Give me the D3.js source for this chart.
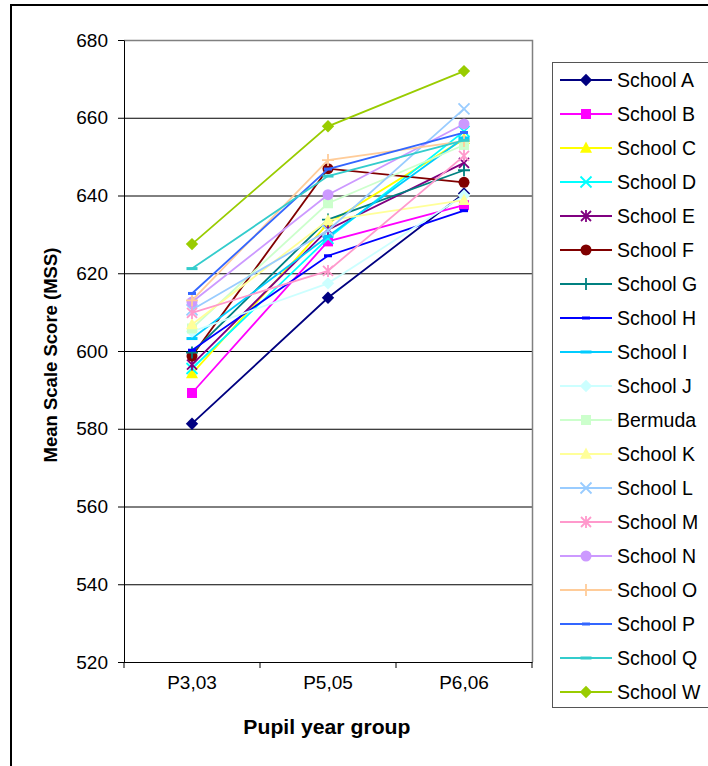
<!DOCTYPE html>
<html>
<head>
<meta charset="utf-8">
<script src="https://cdn.jsdelivr.net/npm/d3@7"></script>
<style>
  html, body { margin: 0; padding: 0; background: #fff; }
  svg text { font-family: "Liberation Sans", Arial, sans-serif; fill: #000; }
</style>
</head>
<body>
<svg id="chart"></svg>
<script>
const W = 708, H = 766;

// data
const groups = ["P3,03", "P5,05", "P6,06"];
const schools = ["School A", "School B", "School C", "School D", "School E", "School F",
    "School G", "School H", "School I", "School J", "Bermuda", "School K", "School L",
    "School M", "School N", "School O", "School P", "School Q", "School W"];
const scores = [
    [581.3, 613.7, 640.5],
    [589.2, 628.2, 637.5],
    [594.2, 632.8, 654.5],
    [595.5, 629.0, 656.5],
    [596.5, 631.2, 648.4],
    [598.7, 646.9, 643.4],
    [599.6, 633.8, 646.5],
    [600.2, 624.5, 636.1],
    [603.2, 629.5, 654.8],
    [605.0, 617.4, 640.0],
    [605.8, 638.0, 653.0],
    [606.8, 633.6, 638.8],
    [610.6, 631.0, 662.3],
    [609.8, 620.6, 650.2],
    [612.6, 640.2, 658.4],
    [613.0, 649.1, 654.0],
    [614.8, 646.8, 656.2],
    [621.2, 645.0, 654.2],
    [627.5, 657.8, 672.0]
];
const yTicks = [520, 540, 560, 580, 600, 620, 640, 660, 680];

// excel 2003 default series look
const colors = ["#000080", "#FF00FF", "#FFFF00", "#00FFFF", "#800080", "#800000",
    "#008080", "#0000FF", "#00CCFF", "#CCFFFF", "#CCFFCC", "#FFFF99", "#99CCFF",
    "#FF99CC", "#CC99FF", "#FFCC99", "#3366FF", "#33CCCC", "#99CC00"];
const markers = ["diamond", "square", "triangle", "x", "star", "circle", "plus", "dash",
    "longdash", "diamond", "square", "triangle", "x", "star", "circle", "plus", "dash",
    "longdash", "diamond"];

const plot = { left: 124, right: 532, top: 40, bottom: 662 };

const svg = d3.select("#chart").attr("width", W).attr("height", H);

// outer frame
svg.append("rect")
    .attr("x", 11).attr("y", 5)
    .attr("width", 740).attr("height", 800)
    .attr("fill", "none").attr("stroke", "#000").attr("stroke-width", 2);

const x = d3.scaleBand().domain(groups).range([plot.left, plot.right]);
const y = d3.scaleLinear().domain([520, 680]).range([plot.bottom, plot.top]);
const cx = d => x(d) + x.bandwidth() / 2;

// gridlines
svg.append("g")
    .attr("transform", `translate(${plot.left},0)`)
    .call(d3.axisLeft(y).tickValues(yTicks).tickSize(-(plot.right - plot.left)).tickFormat(""))
    .call(g => g.select(".domain").remove())
    .call(g => g.selectAll("line").attr("stroke", "#000").attr("stroke-width", 1));

// plot frame (top/right grey)
svg.append("path")
    .attr("d", `M${plot.left},${plot.top + 0.5}H${plot.right + 0.5}V${plot.bottom}`)
    .attr("fill", "none").attr("stroke", "#808080").attr("stroke-width", 1.5);

// y axis
svg.append("g")
    .attr("transform", `translate(${plot.left},0)`)
    .call(d3.axisLeft(y).tickValues(yTicks).tickSize(6).tickPadding(10).tickSizeOuter(0))
    .call(g => g.selectAll("line, path").attr("stroke", "#000"))
    .call(g => g.selectAll("text").attr("font-size", 19).attr("font-family", "Liberation Sans, Arial"));

// x axis
svg.append("g")
    .attr("transform", `translate(0,${plot.bottom})`)
    .call(d3.axisBottom(x).tickSize(0).tickPadding(14).tickSizeOuter(0))
    .call(g => g.select(".domain").attr("stroke", "#000"))
    .call(g => g.selectAll("text").attr("font-size", 19).attr("font-family", "Liberation Sans, Arial"));

// category separator ticks
const edges = groups.map(d => x(d)).concat([x.range()[1]]);
svg.append("g").selectAll("line").data(edges).join("line")
    .attr("x1", d => d).attr("x2", d => d)
    .attr("y1", plot.bottom).attr("y2", plot.bottom + 6)
    .attr("stroke", "#000");

// axis titles
svg.append("text")
    .attr("x", (plot.left + plot.right) / 2 - 1).attr("y", 734)
    .attr("text-anchor", "middle")
    .attr("font-size", 20).attr("font-weight", "bold")
    .attr("transform", `translate(${(plot.left + plot.right) / 2},0) scale(1.06,1) translate(${-(plot.left + plot.right) / 2},0)`)
    .text("Pupil year group");

svg.append("text")
    .attr("transform", "translate(57,355) rotate(-90)")
    .attr("text-anchor", "middle")
    .attr("font-size", 18.5).attr("font-weight", "bold")
    .text("Mean Scale Score (MSS)");

function drawMarker(g, type, color) {
    let el;
    switch (type) {
        case "diamond":
            el = g.append("path").attr("d", "M0,-6.2L6.2,0L0,6.2L-6.2,0Z").attr("fill", color); break;
        case "square":
            el = g.append("rect").attr("x", -5).attr("y", -5).attr("width", 10).attr("height", 10).attr("fill", color); break;
        case "triangle":
            el = g.append("path").attr("d", "M0,-6.5L6,4.8L-6,4.8Z").attr("fill", color); break;
        case "circle":
            el = g.append("circle").attr("r", 5.5).attr("fill", color); break;
        case "dash":
            el = g.append("rect").attr("x", -4).attr("y", -1.5).attr("width", 8).attr("height", 3).attr("fill", color); break;
        case "longdash":
            el = g.append("rect").attr("x", -5.5).attr("y", -1.5).attr("width", 11).attr("height", 3).attr("fill", color); break;
        case "x":
            el = g.append("path").attr("d", "M-5.5,-5.5L5.5,5.5M-5.5,5.5L5.5,-5.5"); break;
        case "star":
            el = g.append("path").attr("d", "M-5,-5L5,5M-5,5L5,-5M0,-6V6"); break;
        case "plus":
            el = g.append("path").attr("d", "M-6,0H6M0,-6V6"); break;
    }
    if (["x", "star", "plus"].includes(type)) {
        el.attr("stroke", color).attr("stroke-width", 1.8).attr("fill", "none");
    }
}

// series
const line = d3.line().x((d, i) => cx(groups[i])).y(d => y(d));

schools.forEach((name, s) => {
    const g = svg.append("g").attr("class", "series");
    g.append("path")
        .attr("d", line(scores[s]))
        .attr("fill", "none")
        .attr("stroke", colors[s])
        .attr("stroke-width", 1.8);
    scores[s].forEach((v, i) => {
        const m = g.append("g").attr("transform", `translate(${cx(groups[i])},${y(v)})`);
        drawMarker(m, markers[s], colors[s]);
    });
});

// legend
const legend = svg.append("g");
legend.append("rect")
    .attr("x", 552.5).attr("y", 62.5)
    .attr("width", 200).attr("height", 645)
    .attr("fill", "#fff").attr("stroke", "#555").attr("stroke-width", 1);

const ly = d3.scalePoint().domain(schools).range([80, 692]);

schools.forEach((name, s) => {
    const row = legend.append("g").attr("transform", `translate(0,${ly(name)})`);
    row.append("line")
        .attr("x1", 560).attr("x2", 612)
        .attr("stroke", colors[s]).attr("stroke-width", 1.8);
    const m = row.append("g").attr("transform", "translate(586,0)");
    drawMarker(m, markers[s], colors[s]);
    row.append("text")
        .attr("x", 617).attr("dy", "0.35em")
        .attr("font-size", 19.5)
        .text(name);
});
</script>
</body>
</html>
